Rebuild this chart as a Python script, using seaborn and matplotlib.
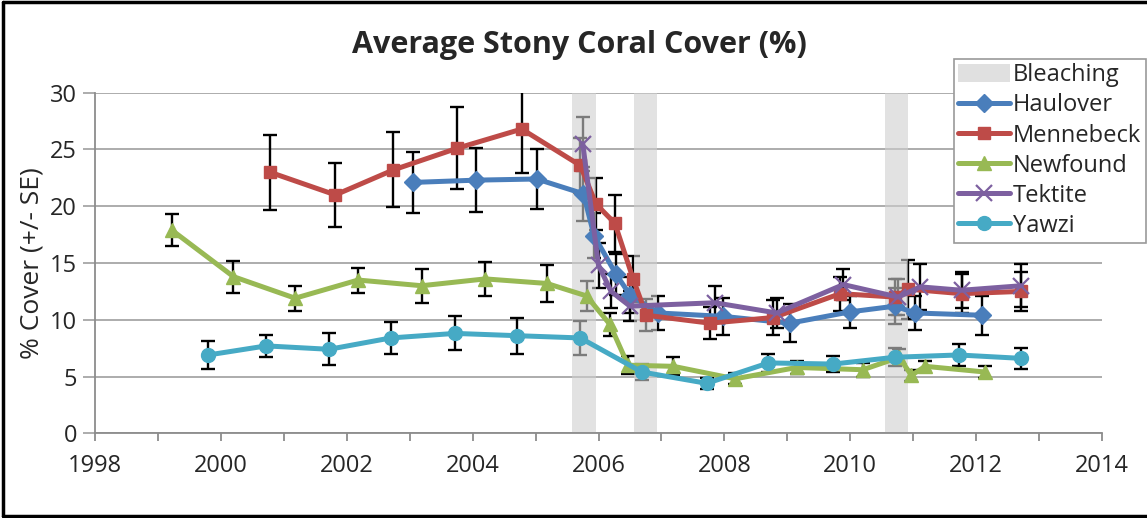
import numpy as np
import pandas as pd
import matplotlib.pyplot as plt
import matplotlib.ticker as ticker
from matplotlib.patches import Patch
from matplotlib.lines import Line2D
import seaborn as sns

# Site data: survey date (decimal year), mean % cover, standard error
haulover_yr = [2003.06, 2004.06, 2005.02, 2005.76, 2005.93, 2006.28, 2006.5, 2006.95,
               2007.98, 2009.04, 2010.0, 2010.71, 2011.03, 2012.09]
haulover_val = [22.1, 22.3, 22.4, 21.1, 17.4, 14.0, 12.2, 10.6, 10.3, 9.7, 10.7, 11.2, 10.6, 10.4]
haulover_se = [2.7, 2.8, 2.6, 2.4, 2.0, 1.8, 1.6, 1.5, 1.6, 1.7, 1.4, 1.6, 1.5, 1.7]

mennebeck_yr = [2000.78, 2001.82, 2002.74, 2003.75, 2004.78, 2005.71, 2005.96, 2006.26,
                2006.55, 2006.76, 2007.77, 2008.78, 2009.84, 2010.71, 2010.92, 2011.77, 2012.72]
mennebeck_val = [23.0, 21.0, 23.2, 25.1, 26.8, 23.6, 20.2, 18.5, 13.6, 10.4, 9.7, 10.2, 12.3,
                 12.0, 12.7, 12.3, 12.5]
mennebeck_se = [3.3, 2.8, 3.3, 3.6, 3.9, 2.4, 2.3, 2.5, 2.0, 1.4, 1.4, 1.5, 1.5, 1.6, 2.6, 1.7, 1.7]

newfound_yr = [1999.22, 2000.2, 2001.18, 2002.18, 2003.19, 2004.2, 2005.18, 2005.81, 2006.18,
               2006.47, 2007.19, 2008.17, 2009.15, 2010.2, 2010.78, 2010.97, 2011.19, 2012.14]
newfound_val = [17.9, 13.8, 11.9, 13.5, 13.0, 13.6, 13.2, 12.1, 9.6, 6.0, 5.9, 4.8, 5.8, 5.6,
                6.7, 5.1, 5.9, 5.4]
newfound_se = [1.4, 1.4, 1.1, 1.1, 1.5, 1.5, 1.6, 1.3, 1.0, 0.8, 0.8, 0.5, 0.6, 0.6, 0.7, 0.5,
               0.5, 0.5]

tektite_yr = [2005.75, 2006.0, 2006.2, 2006.5, 2007.85, 2008.83, 2009.89, 2010.76, 2011.11,
              2011.77, 2012.72]
tektite_val = [25.5, 14.8, 12.5, 11.2, 11.5, 10.6, 13.1, 12.0, 12.9, 12.6, 13.0]
tektite_se = [2.4, 2.0, 1.5, 1.3, 1.5, 1.3, 1.4, 1.6, 2.0, 1.6, 1.9]

yawzi_yr = [1999.8, 2000.72, 2001.72, 2002.7, 2003.72, 2004.7, 2005.71, 2006.69, 2007.72,
            2008.7, 2009.73, 2010.71, 2011.72, 2012.72]
yawzi_val = [6.9, 7.7, 7.4, 8.4, 8.8, 8.6, 8.4, 5.4, 4.4, 6.2, 6.1, 6.7, 6.9, 6.6]
yawzi_se = [1.2, 1.0, 1.4, 1.4, 1.5, 1.6, 1.5, 0.7, 0.5, 0.8, 0.7, 0.8, 1.0, 0.9]

# Bleaching events (centre of shaded band, band width in years)
bleach_yr = [2005.77, 2006.75, 2010.73]
bleach_width = 0.37

sites = {
    "Haulover": (haulover_yr, haulover_val, haulover_se),
    "Mennebeck": (mennebeck_yr, mennebeck_val, mennebeck_se),
    "Newfound": (newfound_yr, newfound_val, newfound_se),
    "Tektite": (tektite_yr, tektite_val, tektite_se),
    "Yawzi": (yawzi_yr, yawzi_val, yawzi_se),
}
colors = {"Haulover": "#4a7ebb", "Mennebeck": "#be4b48", "Newfound": "#98b954",
          "Tektite": "#7d60a0", "Yawzi": "#46aac5"}
markers = {"Haulover": "D", "Mennebeck": "s", "Newfound": "^", "Tektite": "x", "Yawzi": "o"}
msizes = {"Haulover": 9, "Mennebeck": 9, "Newfound": 10, "Tektite": 12, "Yawzi": 10}

sns.set_style("white")
plt.rcParams["font.family"] = ["Open Sans", "DejaVu Sans"]

fig = plt.figure(figsize=(11.47, 5.18), dpi=100)
ax = fig.add_axes([0.0828, 0.1635, 0.8780, 0.6575])

# error bars first, then the bleaching bands drawn half-transparent on top of them
for name, (yr, val, se) in sites.items():
    ax.errorbar(yr, val, yerr=se, fmt="none", ecolor="black", elinewidth=1.7,
                capsize=5, capthick=1.7, zorder=2)

ax.bar(bleach_yr, 30, width=bleach_width, color="#cfcfcf", alpha=0.6,
       linewidth=0, zorder=2.5)

for name, (yr, val, se) in sites.items():
    df = pd.DataFrame({"year": yr, "cover": val})
    c = colors[name]
    sns.lineplot(data=df, x="year", y="cover", ax=ax, color=c, linewidth=3.6,
                 marker=markers[name], markersize=msizes[name], markeredgecolor=c,
                 markerfacecolor=c, markeredgewidth=1.6 if name == "Tektite" else 1,
                 zorder=3, sort=False)

ax.set_xlim(1998, 2014)
ax.set_ylim(0, 30)
ax.xaxis.set_major_locator(ticker.MultipleLocator(2))
ax.xaxis.set_minor_locator(ticker.MultipleLocator(1))
ax.yaxis.set_major_locator(ticker.MultipleLocator(5))
ax.yaxis.grid(True, color="#a6a6a6", linewidth=1.3)
ax.set_axisbelow(True)
for s in ["top", "right"]:
    ax.spines[s].set_visible(False)
for s in ["left", "bottom"]:
    ax.spines[s].set_color("#8c8c8c")
    ax.spines[s].set_linewidth(1.3)
ax.tick_params(axis="x", which="both", direction="out", length=6, width=1.3,
               color="#8c8c8c", bottom=True, labelsize=17, pad=9)
ax.tick_params(axis="y", which="major", direction="out", length=9, width=1.3,
               color="#a6a6a6", left=True, labelsize=17, pad=4)
ax.set_xlabel("")
ax.set_ylabel("% Cover (+/- SE)", fontsize=19, labelpad=4)

fig.text(0.505, 0.913, "Average Stony Coral Cover (%)", ha="center", va="center",
         fontsize=22, fontweight="bold")

handles = [Patch(facecolor="#e0e0e0", edgecolor="none", label="Bleaching")]
for name in sites:
    c = colors[name]
    handles.append(Line2D([], [], color=c, linewidth=3.6, marker=markers[name],
                          markersize=msizes[name], markerfacecolor=c, markeredgecolor=c,
                          markeredgewidth=1.6 if name == "Tektite" else 1, label=name))
leg = fig.legend(handles=handles, loc="upper left", bbox_to_anchor=(0.8315, 0.887),
                 fontsize=17, frameon=True, fancybox=False, framealpha=1,
                 edgecolor="#9a9a9a", handlelength=2.2, handleheight=0.8,
                 handletextpad=0.1, labelspacing=0.26, borderpad=0.2, borderaxespad=0)
leg.get_frame().set_linewidth(1.2)

# black frame round the chart
for coords in [([0.003, 0.003], [0.003, 0.997]), ([0.003, 1.0], [0.997, 0.997]),
               ([0.003, 1.0], [0.003, 0.003])]:
    fig.add_artist(Line2D(coords[0], coords[1], color="black", linewidth=2.5,
                          transform=fig.transFigure))

fig.savefig("out.png", dpi=100)
